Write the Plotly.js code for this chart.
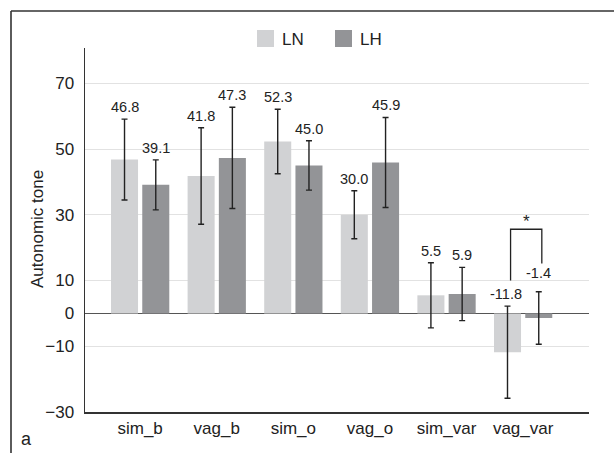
<!DOCTYPE html>
<html>
<head>
<meta charset="utf-8">
<script src="https://cdn.plot.ly/plotly-3.0.1.min.js"></script>
<style>html,body{margin:0;padding:0;background:#fff;}</style>
</head>
<body>
<div id="chart" style="width:614px;height:453px;"></div>
<script>
// ---- data ----
const categories = ['sim_b', 'vag_b', 'sim_o', 'vag_o', 'sim_var', 'vag_var'];
const seriesNames = ['LN', 'LH'];
const lnValues = [46.8, 41.8, 52.3, 30.0, 5.5, -11.8];
const lhValues = [39.1, 47.3, 45.0, 45.9, 5.9, -1.4];
const lnErrors = [12.3, 14.7, 9.8, 7.3, 9.9, 14.0];
const lhErrors = [7.6, 15.4, 7.5, 13.7, 8.1, 8.0];
const yTickVals = [-30, -10, 0, 10, 30, 50, 70];
const sigCategory = 'vag_var';
const sigLabel = '*';
const sigBracketY = [10.0, 25.6, 25.6, 15.2]; // left foot, top, top, right foot
const yTitle = 'Autonomic tone';
const panelLabel = 'a';

// ---- style ----
const colors = ['#d1d2d4', '#939497'];
const W = 614, H = 453;
const M = {l: 85, r: 25, t: 48, b: 41};
const PW = W - M.l - M.r, PH = H - M.t - M.b;
const px = x => (x - M.l) / PW;
const py = y => (H - M.b - y) / PH;
const bargap = 0.184, bargroupgap = 0.135;
const slot = (1 - bargap) / 2;
const offsets = [-slot / 2, slot / 2];
const FONT = 'Liberation Sans, Arial, Helvetica, sans-serif';
const ink = '#222';

const values = [lnValues, lhValues];
const errors = [lnErrors, lhErrors];

const traces = seriesNames.map((name, s) => ({
  type: 'bar', name: name, x: categories, y: values[s],
  marker: {color: colors[s], line: {width: 0}},
  error_y: {type: 'data', array: errors[s], visible: true, color: ink, thickness: 1.4, width: 3},
  showlegend: false, hoverinfo: 'skip'
}));

const annotations = [];
seriesNames.forEach((name, s) => {
  values[s].forEach((v, i) => {
    const top = v + errors[s][i];
    const isSig = categories[i] === sigCategory && s === 1;
    annotations.push({
      x: i + offsets[s], y: top, xref: 'x', yref: 'y',
      text: v.toFixed(1), showarrow: false,
      xanchor: 'center', yanchor: 'bottom', yshift: isSig ? 9 : 2,
      xshift: (categories[i] === sigCategory && s === 0) ? -2 : 0,
      font: {family: FONT, size: 14.5, color: ink}
    });
  });
});

// significance bracket
const si = categories.indexOf(sigCategory);
const bx0 = si + offsets[0] + 0.04, bx1 = si + offsets[1] + 0.04;
const shapes = [
  {type: 'path', xref: 'x', yref: 'y',
   path: `M${bx0},${sigBracketY[0]} L${bx0},${sigBracketY[1]} L${bx1},${sigBracketY[2]} L${bx1},${sigBracketY[3]}`,
   line: {color: ink, width: 1.3}}
];
annotations.push({x: (bx0 + bx1) / 2, y: sigBracketY[1], xref: 'x', yref: 'y', text: sigLabel,
  showarrow: false, yanchor: 'bottom', yshift: -4, font: {family: FONT, size: 17, color: ink}});

// outer frame (left + top)
shapes.push({type: 'line', xref: 'paper', yref: 'paper', x0: px(11), x1: px(11), y0: py(H + 5), y1: py(11), line: {color: '#333', width: 1.6}});
shapes.push({type: 'line', xref: 'paper', yref: 'paper', x0: px(11), x1: px(W + 5), y0: py(11), y1: py(11), line: {color: '#333', width: 1.6}});

// custom legend
const legX = [257, 335];
seriesNames.forEach((name, s) => {
  shapes.push({type: 'rect', xref: 'paper', yref: 'paper', x0: px(legX[s]), x1: px(legX[s] + 17),
    y0: py(47), y1: py(30), fillcolor: colors[s], line: {width: 0}});
  annotations.push({xref: 'paper', yref: 'paper', x: px(legX[s] + 23), y: py(39), text: name,
    showarrow: false, xanchor: 'left', yanchor: 'middle', font: {family: FONT, size: 17, color: ink}});
});

// y-axis title (placed as annotation for exact position)
annotations.push({xref: 'paper', yref: 'paper', x: px(37), y: py(229), text: yTitle, textangle: -90,
  showarrow: false, xanchor: 'center', yanchor: 'middle', font: {family: FONT, size: 17, color: ink}});

// panel label
annotations.push({xref: 'paper', yref: 'paper', x: px(19), y: py(439), text: panelLabel, showarrow: false,
  xanchor: 'left', yanchor: 'middle', font: {family: FONT, size: 18, color: ink}});

const layout = {
  width: W, height: H, margin: M,
  paper_bgcolor: '#fff', plot_bgcolor: '#fff',
  barmode: 'group', bargap: bargap, bargroupgap: bargroupgap,
  font: {family: FONT, color: ink},
  xaxis: {type: 'category', range: [-0.72, 5.86], showgrid: false, showline: true, linecolor: '#333', linewidth: 1.5,
    ticks: '', tickfont: {family: FONT, size: 17, color: ink}, zeroline: false, fixedrange: true},
  yaxis: {range: [-30, 80.74], tickmode: 'array', tickvals: yTickVals, showgrid: true, gridcolor: '#e2e2e2', gridwidth: 1,
    showline: true, linecolor: '#333', linewidth: 1.5, ticks: '', ticklabelstandoff: 6,
    zeroline: true, zerolinecolor: '#555', zerolinewidth: 1.5,
    tickfont: {family: FONT, size: 17, color: ink},
    title: {text: ''}},
  shapes: shapes, annotations: annotations, showlegend: false
};

Plotly.newPlot('chart', traces, layout, {displayModeBar: false, staticPlot: true});
</script>
</body>
</html>
